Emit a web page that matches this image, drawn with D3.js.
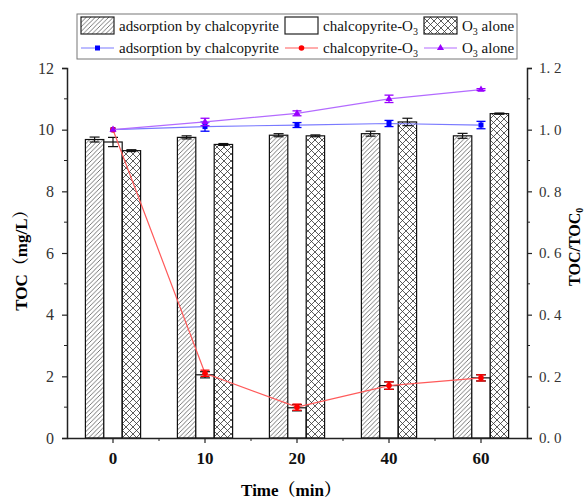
<!DOCTYPE html>
<html>
<head>
<meta charset="utf-8">
<script src="https://cdn.jsdelivr.net/npm/d3@7"></script>
<style>
  body { margin: 0; background: #fff; }
</style>
</head>
<body>
<div id="chart"></div>
<script>
// time points (min)
var categories = ["0", "10", "20", "40", "60"];

// TOC (mg/L) bars
var adsorptionTOC    = [9.68, 9.75, 9.82, 9.87, 9.80];
var adsorptionTOCErr = [0.08, 0.05, 0.05, 0.08, 0.08];
var chalcoO3TOC      = [9.60, 2.05, 0.98, 1.70, 1.95];
var chalcoO3TOCErr   = [0.15, 0.10, 0.10, 0.12, 0.10];
var o3AloneTOC       = [9.32, 9.52, 9.80, 10.25, 10.52];
var o3AloneTOCErr    = [0.03, 0.03, 0.03, 0.12, 0.02];

// TOC/TOC0 lines
var adsorptionRatio    = [1.00, 1.01, 1.015, 1.02, 1.015];
var adsorptionRatioErr = [0, 0.015, 0.008, 0.01, 0.012];
var chalcoO3Ratio      = [1.00, 0.21, 0.10, 0.17, 0.195];
var chalcoO3RatioErr   = [0, 0.01, 0.01, 0.012, 0.01];
var o3AloneRatio       = [1.00, 1.025, 1.053, 1.10, 1.13];
var o3AloneRatioErr    = [0, 0.012, 0.008, 0.012, 0.003];

var leftTicks  = [0, 2, 4, 6, 8, 10, 12];
var rightTicks = [0, 0.2, 0.4, 0.6, 0.8, 1.0, 1.2];

var FONT = "'Liberation Serif', 'Noto Serif CJK SC', 'Noto Sans CJK SC', serif";
var W = 586, H = 499;
var margin = {top: 68, right: 59, bottom: 61, left: 67};

var svg = d3.select("#chart").append("svg")
  .attr("width", W).attr("height", H)
  .attr("font-family", FONT);

// fill patterns
var defs = svg.append("defs");
var hatch = defs.append("pattern").attr("id", "hatch")
  .attr("patternUnits", "userSpaceOnUse").attr("width", 4.5).attr("height", 4.5);
hatch.append("path").attr("d", "M-1,1 l2,-2 M0,4.5 l4.5,-4.5 M3.5,5.5 l2,-2")
  .attr("stroke", "#555").attr("stroke-width", 0.8);
var cross = defs.append("pattern").attr("id", "cross")
  .attr("patternUnits", "userSpaceOnUse").attr("width", 7).attr("height", 7);
cross.append("path").attr("d", "M0,0 L7,7 M7,0 L0,7")
  .attr("stroke", "#333").attr("stroke-width", 0.8);

var x = d3.scaleBand().domain(categories)
  .range([margin.left, W - margin.right]).padding(0);
var y = d3.scaleLinear().domain([0, 12]).range([H - margin.bottom, margin.top]);
var y2 = d3.scaleLinear().domain([0, 1.2]).range([H - margin.bottom, margin.top]);

var bw = x.bandwidth() * 0.2;

var barSeries = [
  {name: "adsorption by chalcopyrite", vals: adsorptionTOC, err: adsorptionTOCErr, fill: "url(#hatch)"},
  {name: "chalcopyrite-O3", vals: chalcoO3TOC, err: chalcoO3TOCErr, fill: "#fff"},
  {name: "O3 alone", vals: o3AloneTOC, err: o3AloneTOCErr, fill: "url(#cross)"}
];

barSeries.forEach(function(s, si) {
  var g = svg.append("g");
  categories.forEach(function(c, i) {
    var x0 = x(c) + x.bandwidth() / 2 + (si - 1.5) * bw;
    g.append("rect")
      .attr("x", x0).attr("y", y(s.vals[i]))
      .attr("width", bw).attr("height", y(0) - y(s.vals[i]))
      .attr("fill", s.fill).attr("stroke", "#111").attr("stroke-width", 1.2);
    var cx = x0 + bw / 2;
    var e = g.append("g").attr("stroke", "#111").attr("stroke-width", 1.2);
    e.append("line").attr("x1", cx).attr("x2", cx)
      .attr("y1", y(s.vals[i] - s.err[i])).attr("y2", y(s.vals[i] + s.err[i]));
    [-1, 1].forEach(function(k) {
      e.append("line").attr("x1", cx - 5).attr("x2", cx + 5)
        .attr("y1", y(s.vals[i] + k * s.err[i])).attr("y2", y(s.vals[i] + k * s.err[i]));
    });
  });
});

var lineSeries = [
  {vals: adsorptionRatio, err: adsorptionRatioErr, line: "#7a7aff", color: "#0000ff", mark: "square"},
  {vals: chalcoO3Ratio, err: chalcoO3RatioErr, line: "#ff5a5a", color: "#ff0000", mark: "circle"},
  {vals: o3AloneRatio, err: o3AloneRatioErr, line: "#b36bff", color: "#9900ff", mark: "triangle"}
];

function drawMarker(g, kind, cx, cy, color) {
  if (kind === "square") {
    g.append("rect").attr("x", cx - 2.5).attr("y", cy - 2.5).attr("width", 5).attr("height", 5).attr("fill", color);
  } else if (kind === "circle") {
    g.append("circle").attr("cx", cx).attr("cy", cy).attr("r", 2.8).attr("fill", color);
  } else {
    g.append("path").attr("d", d3.symbol().type(d3.symbolTriangle).size(22)())
      .attr("transform", "translate(" + cx + "," + cy + ")").attr("fill", color);
  }
}

lineSeries.forEach(function(s) {
  var g = svg.append("g");
  var line = d3.line()
    .x(function(d, i) { return x(categories[i]) + x.bandwidth() / 2; })
    .y(function(d) { return y2(d); });
  g.append("path").datum(s.vals).attr("d", line)
    .attr("fill", "none").attr("stroke", s.line).attr("stroke-width", 1.2);
  s.vals.forEach(function(v, i) {
    var cx = x(categories[i]) + x.bandwidth() / 2;
    if (s.err[i] > 0) {
      var e = g.append("g").attr("stroke", s.color).attr("stroke-width", 1.3);
      e.append("line").attr("x1", cx).attr("x2", cx)
        .attr("y1", y2(v - s.err[i])).attr("y2", y2(v + s.err[i]));
      [-1, 1].forEach(function(k) {
        e.append("line").attr("x1", cx - 4.5).attr("x2", cx + 4.5)
          .attr("y1", y2(v + k * s.err[i])).attr("y2", y2(v + k * s.err[i]));
      });
    }
    drawMarker(g, s.mark, cx, y2(v), s.color);
  });
});

// axes
var axisColor = "#222";
var yAxisL = svg.append("g").attr("transform", "translate(" + margin.left + ",0)")
  .call(d3.axisLeft(y).tickValues(leftTicks).tickSize(5).tickPadding(8).tickFormat(d3.format("d")));
yAxisL.append("g").selectAll("line").data(d3.range(1, 12, 2)).join("line")
  .attr("x1", 0).attr("x2", -3).attr("y1", function(d) { return y(d); }).attr("y2", function(d) { return y(d); })
  .attr("stroke", axisColor);

var yAxisR = svg.append("g").attr("transform", "translate(" + (W - margin.right) + ",0)")
  .call(d3.axisRight(y2).tickValues(rightTicks).tickSize(5).tickPadding(7)
    .tickFormat(function(d) { return d3.format(".1f")(d).replace(".", ". "); }));
yAxisR.append("g").selectAll("line").data(d3.range(0.1, 1.2, 0.2)).join("line")
  .attr("x1", 0).attr("x2", 3).attr("y1", function(d) { return y2(d); }).attr("y2", function(d) { return y2(d); })
  .attr("stroke", axisColor);

var xAxis = svg.append("g").attr("transform", "translate(0," + (H - margin.bottom) + ")")
  .call(d3.axisBottom(x).tickSize(5).tickPadding(9).tickSizeOuter(0));
xAxis.append("g").selectAll("line").data(categories.slice(1)).join("line")
  .attr("x1", function(d) { return x(d); }).attr("x2", function(d) { return x(d); })
  .attr("y1", 0).attr("y2", 3).attr("stroke", axisColor);

[yAxisL, yAxisR, xAxis].forEach(function(a) {
  a.attr("font-family", FONT);
  a.select(".domain").attr("stroke", axisColor).attr("stroke-width", 1.5);
  a.selectAll(".tick line").attr("stroke", axisColor).attr("stroke-width", 1.2);
  a.selectAll("text").attr("fill", "#333").attr("font-family", FONT);
});
yAxisL.selectAll(".tick text").attr("font-size", 16);
yAxisR.selectAll(".tick text").attr("font-size", 15);
xAxis.selectAll(".tick text").attr("font-size", 17).attr("font-weight", "bold").attr("fill", "#111");

// axis titles
svg.append("text")
  .attr("transform", "translate(27," + y(5.9) + ") rotate(-90)")
  .attr("text-anchor", "middle").attr("font-size", 17).attr("font-weight", "bold")
  .text("TOC（mg/L）");

var rt = svg.append("text")
  .attr("transform", "translate(580," + y2(0.62) + ") rotate(-90)")
  .attr("text-anchor", "middle").attr("font-size", 16).attr("font-weight", "bold");
rt.append("tspan").text("TOC/TOC");
rt.append("tspan").attr("font-size", 10).attr("dy", 3).text("0");

svg.append("text")
  .attr("x", x("20") + x.bandwidth() / 2 - 6).attr("y", 496)
  .attr("text-anchor", "middle").attr("font-size", 17).attr("font-weight", "bold")
  .text("Time（min）");

// legend
var lg = svg.append("g");
lg.append("rect").attr("x", 77).attr("y", 14).attr("width", 440).attr("height", 45)
  .attr("fill", "#fff").attr("stroke", "#777").attr("stroke-width", 1);

var legX = [81, 285, 424];
function legText(xp, yp, label) {
  var t = lg.append("text").attr("x", xp + 38).attr("y", yp + 5).attr("font-size", 15).attr("fill", "#111");
  if (label.indexOf("O3") >= 0) {
    var parts = label.split("O3");
    t.append("tspan").text(parts[0] + "O");
    t.append("tspan").attr("font-size", 10).attr("dy", 4).text("3");
    t.append("tspan").attr("dy", -4).text(parts[1]);
  } else {
    t.text(label);
  }
}
barSeries.forEach(function(s, i) {
  lg.append("rect").attr("x", legX[i]).attr("y", 17).attr("width", 33).attr("height", 17)
    .attr("fill", s.fill).attr("stroke", "#222").attr("stroke-width", 1.2);
  legText(legX[i], 26, s.name);
});
lineSeries.forEach(function(s, i) {
  lg.append("line").attr("x1", legX[i]).attr("x2", legX[i] + 33).attr("y1", 48).attr("y2", 48)
    .attr("stroke", s.line).attr("stroke-width", 1.2);
  drawMarker(lg, s.mark, legX[i] + 16.5, 48, s.color);
  legText(legX[i], 48, barSeries[i].name);
});
</script>
</body>
</html>
